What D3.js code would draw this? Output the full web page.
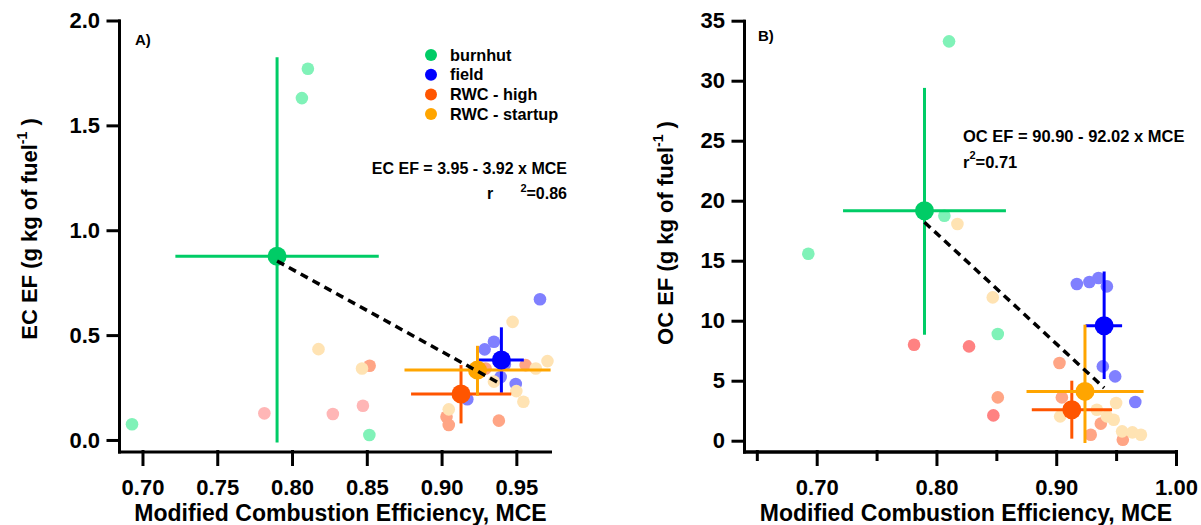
<!DOCTYPE html>
<html>
<head>
<meta charset="utf-8">
<script src="https://cdn.jsdelivr.net/npm/d3@7"></script>
<style>
  html, body { margin: 0; padding: 0; background: #fff; }
  svg { display: block; font-family: "Liberation Sans", Arial, sans-serif; font-weight: bold; }
</style>
</head>
<body>
<svg id="chart" width="1201" height="525"></svg>
<script>
// Source groups
const groups = ["burnhut", "field", "RWC - high", "RWC - startup"];
const groupColors = ["#00cc66", "#0000ff", "#ff5500", "#ffa500"];
const faintColors = ["#80f2b8", "#8080ff", "#ffa585", "#ffe3b3"];

// Group means of MCE with their ranges
const meanMCE = [0.790, 0.940, 0.913, 0.924];
const meanMCELo = [0.722, 0.9245, 0.8796, 0.8752];
const meanMCEHi = [0.858, 0.955, 0.9466, 0.9729];

// EC emission factor means and ranges (g kg-1)
const ecMean = [0.876, 0.381, 0.219, 0.333];
const ecLo = [-0.012, 0.225, 0.079, 0.211];
const ecHi = [1.825, 0.537, 0.357, 0.449];

// OC emission factor means and ranges (g kg-1)
const ocMean = [19.17, 9.58, 2.58, 4.11];
const ocLo = [8.83, 5.14, 0.17, -0.19];
const ocHi = [29.4, 14.1, 5.0, 9.67];

// Individual burns, [MCE, EF]
const ecBurnhut = [[0.693, 0.075], [0.8066, 1.63], [0.8106, 1.77], [0.8517, 0.024]];
const ecField = [[0.9172, 0.194], [0.9288, 0.432], [0.935, 0.468], [0.9423, 0.36], [0.9395, 0.30], [0.9496, 0.267], [0.9658, 0.671]];
const ecHigh = [[0.8519, 0.354], [0.9562, 0.357], [0.9033, 0.111], [0.9048, 0.071], [0.9383, 0.092], [0.9294, 0.341]];
const ecStartup = [[0.9475, 0.563], [0.9708, 0.376], [0.963, 0.341], [0.8468, 0.341], [0.935, 0.278], [0.950, 0.233], [0.9547, 0.182], [0.9048, 0.146], [0.8177, 0.433]];
const ecOther = [[0.7815, 0.127], [0.8273, 0.124], [0.8474, 0.163]];

const ocBurnhut = [[0.693, 15.58], [0.8066, 18.75], [0.8105, 33.28], [0.8512, 8.89]];
const ocField = [[0.9172, 13.06], [0.9277, 13.22], [0.9353, 13.56], [0.9423, 12.86], [0.9389, 6.19], [0.9492, 5.36], [0.966, 3.22]];
const ocHigh = [[0.9027, 6.47], [0.8512, 3.61], [0.9047, 3.61], [0.9372, 1.42], [0.9288, 0.5], [0.9556, 0.08]];
const ocStartup = [[0.8175, 18.06], [0.847, 11.94], [0.950, 3.14], [0.9339, 2.58], [0.9423, 2.03], [0.948, 1.75], [0.955, 0.78], [0.9636, 0.69], [0.9707, 0.5], [0.9033, 2.03]];
const ocOther = [[0.7813, 8.0], [0.8272, 7.86], [0.8475, 2.11]];

// Regression fits
const ecFit = { intercept: 3.95, slope: -3.92, r2: "0.86", from: 0.79, to: 0.94 };
const ocFit = { intercept: 90.90, slope: -92.02, r2: "0.71", from: 0.79, to: 0.94 };

// Tick labels
const ecYTicks = [0.0, 0.5, 1.0, 1.5, 2.0];
const ecXTicks = [0.70, 0.75, 0.80, 0.85, 0.90, 0.95];
const ocYTicks = [0, 5, 10, 15, 20, 25, 30, 35];
const ocXMajor = [0.70, 0.80, 0.90, 1.00];
const ocXMinor = [0.65, 0.75, 0.85, 0.95];

const svg = d3.select("#chart");

function drawPanel(p) {
  const g = svg.append("g");
  const x = d3.scaleLinear().domain(p.xDomain).range(p.xRange);
  const y = d3.scaleLinear().domain(p.yDomain).range(p.yRange);

  // axes
  const yAxis = d3.axisLeft(y).tickValues(p.yTicks).tickFormat(p.yFormat)
    .tickSize(11).tickSizeOuter(0).tickPadding(8);
  g.append("g").attr("transform", `translate(${p.xRange[0]},0)`).call(yAxis);

  if (p.xMinor) {
    const xMinorAxis = d3.axisBottom(x).tickValues(p.xMinor).tickFormat("")
      .tickSize(8).tickSizeOuter(0);
    g.append("g").attr("transform", `translate(0,${p.yRange[0]})`).call(xMinorAxis);
  }
  const xAxis = d3.axisBottom(x).tickValues(p.xTicks).tickFormat(d3.format(".2f"))
    .tickSize(13).tickSizeOuter(0).tickPadding(15);
  g.append("g").attr("transform", `translate(0,${p.yRange[0]})`).call(xAxis);

  g.selectAll(".domain, .tick line")
    .attr("stroke", "#000").attr("stroke-width", 3).attr("stroke-linecap", "square");
  g.selectAll(".tick text")
    .attr("fill", "#000").style("font-size", "22px").style("font-weight", "bold")
    .style("font-family", '"Liberation Sans", Arial, sans-serif');

  // axis titles
  g.append("text")
    .attr("x", (p.xRange[0] + p.xRange[1]) / 2 + 6).attr("y", 521)
    .attr("text-anchor", "middle").style("font-size", "23px")
    .text("Modified Combustion Efficiency, MCE");

  const yt = g.append("text")
    .attr("transform", `translate(${p.yTitleX},${p.yTitleY}) rotate(-90)`)
    .attr("text-anchor", "middle").style("font-size", "22px");
  yt.append("tspan").text(p.yName + " (g kg of fuel");
  yt.append("tspan").attr("dy", -10).style("font-size", "14px").text("-1");
  yt.append("tspan").attr("dy", 10).text(" )");

  // panel letter
  g.append("text").attr("x", p.letterX).attr("y", p.letterY)
    .style("font-size", "15px").text(p.letter);

  // individual burns
  const layers = [
    { pts: p.other, fill: p.otherColor },
    { pts: p.samples[0], fill: faintColors[0] },
    { pts: p.samples[1], fill: faintColors[1] },
    { pts: p.samples[2], fill: faintColors[2] },
    { pts: p.samples[3], fill: faintColors[3] }
  ];
  layers.forEach(l => {
    g.append("g").selectAll("circle").data(l.pts).join("circle")
      .attr("cx", d => x(d[0])).attr("cy", d => y(d[1]))
      .attr("r", 6.3).attr("fill", l.fill);
  });

  // group means with ranges
  const means = groups.map((name, i) => ({
    i, mce: meanMCE[i], lo: meanMCELo[i], hi: meanMCEHi[i],
    ef: p.mean[i], efLo: p.lo[i], efHi: p.hi[i]
  }));
  const mg = g.append("g");
  means.forEach(m => {
    mg.append("line")
      .attr("x1", x(m.lo)).attr("x2", x(m.hi)).attr("y1", y(m.ef)).attr("y2", y(m.ef))
      .attr("stroke", groupColors[m.i]).attr("stroke-width", 3);
    mg.append("line")
      .attr("x1", x(m.mce)).attr("x2", x(m.mce)).attr("y1", y(m.efLo)).attr("y2", y(m.efHi))
      .attr("stroke", groupColors[m.i]).attr("stroke-width", 3);
  });
  mg.selectAll("circle").data(means).join("circle")
    .attr("cx", d => x(d.mce)).attr("cy", d => y(d.ef)).attr("r", 9.5)
    .attr("fill", d => groupColors[d.i]);

  // regression line
  const f = p.fit;
  const line = d3.line().x(d => x(d)).y(d => y(f.intercept + f.slope * d));
  g.append("path").datum([f.from, f.to]).attr("d", line)
    .attr("fill", "none").attr("stroke", "#000").attr("stroke-width", 3.5)
    .attr("stroke-dasharray", "8,5.5");

  return g;
}

// Panel A: elemental carbon
const gA = drawPanel({
  xDomain: [0.6843, 0.9725], xRange: [119, 550],
  yDomain: [-0.055, 2.0], yRange: [451.5, 20.5],
  yTicks: ecYTicks, yFormat: d3.format(".1f"), xTicks: ecXTicks,
  yName: "EC EF", yTitleX: 37, yTitleY: 229,
  letter: "A)", letterX: 135, letterY: 45,
  samples: [ecBurnhut, ecField, ecHigh, ecStartup], other: ecOther, otherColor: "#ffb6b6",
  mean: ecMean, lo: ecLo, hi: ecHi, fit: ecFit
});

// legend
const legend = gA.append("g");
groups.forEach((name, i) => {
  const ly = 55 + i * 19.7;
  legend.append("circle").attr("cx", 431).attr("cy", ly).attr("r", 6).attr("fill", groupColors[i]);
  legend.append("text").attr("x", 450).attr("y", ly + 5.5).style("font-size", "16.3px").text(name);
});

// fit annotation A
gA.append("text").attr("x", 567).attr("y", 174).attr("text-anchor", "end")
  .style("font-size", "16px")
  .text(`EC EF = ${ecFit.intercept.toFixed(2)} - ${Math.abs(ecFit.slope).toFixed(2)} x MCE`);
gA.append("text").attr("x", 487).attr("y", 199).style("font-size", "16px").text("r");
const r2A = gA.append("text").attr("x", 567).attr("y", 199).attr("text-anchor", "end").style("font-size", "16px");
r2A.append("tspan").attr("dy", -7).style("font-size", "11px").text("2");
r2A.append("tspan").attr("dy", 7).text("=" + ecFit.r2);

// Panel B: organic carbon
const gB = drawPanel({
  xDomain: [0.6393, 1.0], xRange: [744, 1176],
  yDomain: [-0.9, 35], yRange: [451.5, 20.7],
  yTicks: ocYTicks, yFormat: d3.format("d"), xTicks: ocXMajor, xMinor: ocXMinor,
  yName: "OC EF", yTitleX: 673, yTitleY: 233,
  letter: "B)", letterX: 758, letterY: 40.5,
  samples: [ocBurnhut, ocField, ocHigh, ocStartup], other: ocOther, otherColor: "#ff8282",
  mean: ocMean, lo: ocLo, hi: ocHi, fit: ocFit
});

// fit annotation B
gB.append("text").attr("x", 963).attr("y", 141.5).style("font-size", "16.5px")
  .text(`OC EF = ${ocFit.intercept.toFixed(2)} - ${Math.abs(ocFit.slope).toFixed(2)} x MCE`);
const r2B = gB.append("text").attr("x", 963).attr("y", 168).style("font-size", "16.5px");
r2B.append("tspan").text("r");
r2B.append("tspan").attr("dy", -9).style("font-size", "11px").text("2");
r2B.append("tspan").attr("dy", 9).text("=" + ocFit.r2);
</script>
</body>
</html>
